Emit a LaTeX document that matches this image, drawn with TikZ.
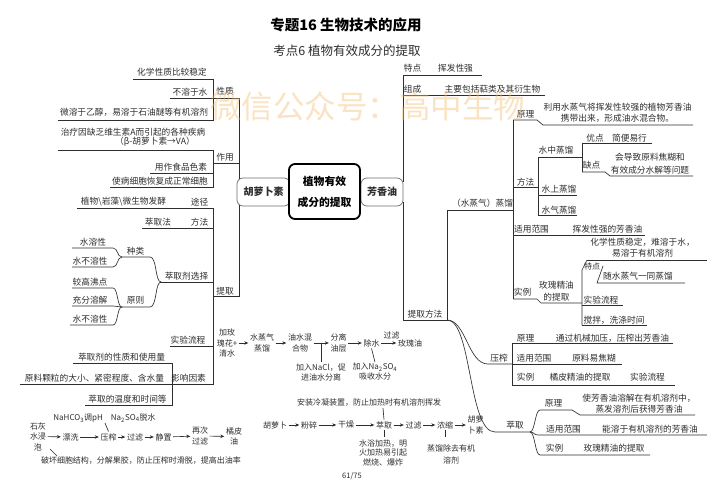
\documentclass[tikz,border=0pt]{standalone}
\usepackage{fontspec}
\setmainfont{Noto Sans CJK SC}
\usetikzlibrary{arrows.meta}
\definecolor{ink}{HTML}{2E2E2E}
\definecolor{wmark}{HTML}{F4BE70}
\begin{document}
\begin{tikzpicture}[x=1pt,y=-1pt,
  tx/.style={inner sep=0pt,text=ink,font=\fontsize{8.7}{10.5}\selectfont},
  ml/.style={tx,align=center},
  fl/.style={inner sep=1.5pt,text=ink,font=\fontsize{8}{10.5}\selectfont,align=center},
  sm/.style={inner sep=0pt,text=ink,font=\fontsize{8}{10}\selectfont,align=center},
  ln/.style={draw=ink,line width=0.65pt},
  arr/.style={draw=ink,line width=0.6pt,-{Stealth[length=4pt,width=3.4pt]}},
  sidebox/.style={draw=ink!70,line width=0.7pt,rounded corners=6pt,minimum height=28pt,inner sep=0pt,font=\fontsize{10}{12}\selectfont\bfseries,text=ink,fill=white},
  ]
\useasboundingbox (0,0) rectangle (707,500);
\fill[white] (0,0) rectangle (707,500);

% titles
\node[inner sep=0pt,text=black,font=\fontsize{14.5}{16}\selectfont\bfseries] (title) at (346,25) {专题16 生物技术的应用};
\node[inner sep=0pt,text=ink,font=\fontsize{12.5}{14}\selectfont] (subtitle) at (347,51) {考点6 植物有效成分的提取};

% ---------------- left tree : 胡萝卜素 ----------------
\node[tx] (p0) at (225,91) {性质};
\node[tx] (p1) at (172,72) {化学性质比较稳定};
\node[tx] (p2) at (190,92) {不溶于水};
\node[tx] (p3) at (134,112) {微溶于乙醇，易溶于石油醚等有机溶剂};
\draw[ln] (133,79)--(213,79)--(213,120)--(58,120);
\draw[ln] (170,98)--(239,98)--(239,182);

\node[tx] (u0) at (225,157) {作用};
\node[tx] (u1) at (133,132) {治疗因缺乏维生素A而引起的各种疾病};
\node[tx] (u2) at (155,142) {（β-胡萝卜素→VA）};
\node[tx] (u3) at (181,167) {用作食品色素};
\node[tx] (u4) at (160,181) {使病细胞恢复成正常细胞};
\draw[ln] (58,150)--(213,150)--(213,187)--(110,187);
\draw[ln] (150,173)--(213,173);
\draw[ln] (213,163)--(239,163);

\node[tx] (e0) at (225,291) {提取};
\node[tx] (e1) at (123.5,202) {植物\textbackslash 岩藻\textbackslash 微生物发酵};
\node[tx] (e1b) at (199.5,202) {途径};
\node[tx] (e2) at (158,222) {萃取法};
\node[tx] (e2b) at (199.5,222) {方法};
\node[tx] (e3) at (186.5,276) {萃取剂选择};
\node[tx] (e4) at (135.5,251) {种类};
\node[tx] (e5) at (135.5,300) {原则};
\node[tx] (e6) at (93,242) {水溶性};
\node[tx] (e7) at (90,261) {水不溶性};
\node[tx] (e8) at (90,282) {较高沸点};
\node[tx] (e9) at (90,300) {充分溶解};
\node[tx] (e10) at (90,319) {水不溶性};
\node[tx] (e11) at (188,340) {实验流程};
\node[tx] (e12) at (188.5,378) {影响因素};
\node[tx] (e13) at (121.5,357) {萃取剂的性质和使用量};
\node[tx] (e14) at (94.5,378) {原料颗粒的大小、紧密程度、含水量};
\node[tx] (e15) at (127.5,399) {萃取的温度和时间等};

\draw[ln] (77,208)--(213,208)--(213,384.5)--(20,384.5);
\draw[ln] (142,228)--(213,228);
\draw[ln] (160,282)--(213,282);
\draw[ln] (170,346)--(213,346);
\draw[ln] (213,296)--(239,296)--(239,202);
\draw[ln] (73,363)--(172,363)--(172,405)--(85,405);
% fans
\draw[ln] (122,257)--(150,257) .. controls +(7,0) and +(-6,0) .. (161,282);
\draw[ln] (122,307)--(150,307) .. controls +(7,0) and +(-6,0) .. (161,282);
\draw[ln] (72,248)--(113,248) .. controls +(5,0) and +(-5,0) .. (122,257);
\draw[ln] (72,267)--(113,267) .. controls +(5,0) and +(-5,0) .. (122,257);
\draw[ln] (72,288)--(113,288) .. controls +(5,0) and +(-5,0) .. (122,307);
\draw[ln] (72,306)--(113,306) .. controls +(5,0) and +(-5,0) .. (122,307);
\draw[ln] (70,325)--(113,325) .. controls +(5,0) and +(-5,0) .. (122,307);

% ---------------- rose oil flow ----------------
\node[fl] (r0) at (227,343) {加玫\\瑰花+\\清水};
\node[fl] (r1) at (262,343) {水蒸气\\蒸馏};
\node[fl] (r2) at (300,343) {油水混\\合物};
\node[fl] (r3) at (338.5,343) {分离\\油层};
\node[fl] (r4) at (371.5,343) {除水};
\node[fl] (r5) at (410,343) {玫瑰油};
\node[sm] (r6) at (391.5,335.5) {过滤};
\draw[arr] (r0) -- (r1);
\draw[arr] (r1) -- (r2);
\draw[arr] (r2) -- (r3);
\draw[arr] (r3) -- (r4);
\draw[arr] (r4) -- (r5);
\node[sm,font=\fontsize{8}{10}\selectfont] (r7) at (321,372) {加入NaCl，促\\进油水分离};
\node[sm] (r8) at (375,372) {加入Na\textsubscript{2}SO\textsubscript{4}\\吸收水分};
\coordinate (r2r3) at (321,343);
\draw[ln] (r7.north) ++(0,-1) -- (r2r3);
\draw[ln] (r8.north) ++(0,-1) -- (r4.south);

% ---------------- carrot flow ----------------
\node[fl] (c0) at (275,425) {胡萝卜};
\node[fl] (c1) at (309,425) {粉碎};
\node[fl] (c2) at (346,425) {干燥};
\node[fl] (c3) at (384,425) {萃取};
\node[fl] (c4) at (413.5,425) {过滤};
\node[fl] (c5) at (445,425) {浓缩};
\node[fl] (c6) at (475.5,425) {胡萝\\卜素};
\draw[arr] (c0) -- (c1);
\draw[arr] (c1) -- (c2);
\draw[arr] (c2) -- (c3);
\draw[arr] (c3) -- (c4);
\draw[arr] (c4) -- (c5);
\draw[arr] (c5) -- (c6);
\node[sm] (c7) at (369,403) {安装冷凝装置，防止加热时有机溶剂挥发};
\node[sm,font=\fontsize{8}{9.5}\selectfont] (c8) at (383,452.5) {水浴加热，明\\火加热易引起\\燃烧、爆炸};
\node[sm,font=\fontsize{8}{12}\selectfont] (c9) at (451,454) {蒸馏除去有机\\溶剂};
\draw[ln] (c7.south) ++(14,1) -- (c3.north);
\draw[ln] (c3.south) -- ++(0,7);
\draw[ln] (c5.south) -- ++(0,7);
\node[inner sep=0pt,text=ink,font=\fontsize{7.5}{9}\selectfont] (page) at (352,476) {61/75};

% ---------------- orange peel flow ----------------
\node[sm] (o0) at (104.5,418) {NaHCO\textsubscript{3}调pH\quad Na\textsubscript{2}SO\textsubscript{4}脱水};
\node[fl] (o1) at (38,436.5) {石灰\\水浸\\泡};
\node[fl] (o2) at (70.5,437) {漂洗};
\node[fl] (o3) at (108.5,437) {压榨};
\node[fl] (o4) at (135,437) {过滤};
\node[fl] (o5) at (163.5,437) {静置};
\node[fl] (o6) at (200,436) {再次\\过滤};
\node[fl] (o7) at (234,436.5) {橘皮\\油};
\draw[arr] (o1) -- (o2);
\draw[arr] (o2) -- (o3);
\draw[arr] (o3) -- (o4);
\draw[arr] (o4) -- (o5);
\draw[arr] (o5) -- (o6);
\draw[arr] (o6) -- (o7);
\draw[ln] (105,423) -- (o3.north);
\node[sm] (o8) at (141,461) {破坏细胞结构，分解果胶，防止压榨时滑脱，提高出油率};
\draw[ln] (50,449) -- (57,456);

% ---------------- right tree : 芳香油 ----------------
\node[tx] (a1) at (412.5,68) {特点};
\node[tx] (a2) at (455.5,68) {挥发性强};
\node[tx] (a3) at (412.5,89) {组成};
\node[tx] (a4) at (492.5,89) {主要包括萜类及其衍生物};
\node[tx] (a5) at (425,314) {提取方法};
\node[tx] (a6) at (482.5,203) {（水蒸气）蒸馏};
\draw[ln] (403,75)--(482,75);
\draw[ln] (403,95)--(545,95);
\draw[ln] (403,75)--(403,182);
\draw[ln] (403,202)--(403,320)--(447,320)--(447,210)--(513,210);
\draw[ln] (513,120)--(513,299);

\node[tx] (b1) at (525.5,114) {原理};
\node[ml,font=\fontsize{8.7}{11}\selectfont] (b2) at (617.5,112.5) {利用水蒸气将挥发性较强的植物芳香油\\携带出来，形成油水混合物。};
\draw[ln] (513,120)--(537,120)--(543,125)--(693,125);
\node[tx] (b3) at (525.5,182) {方法};
\node[tx] (b4) at (556,150) {水中蒸馏};
\node[tx] (b5) at (595,138) {优点};
\node[tx] (b6) at (629.5,138) {简便易行};
\node[tx] (b7) at (591.5,165) {缺点};
\node[ml,font=\fontsize{8.7}{13}\selectfont] (b8) at (650,163.5) {会导致原料焦糊和\\有效成分水解等问题};
\node[tx] (b9) at (559,189) {水上蒸馏};
\node[tx] (b10) at (559,210) {水气蒸馏};
\draw[ln] (513,187)--(538,187);
\draw[ln] (538,157)--(538,215);
\draw[ln] (538,157)--(582,157);
\draw[ln] (582,143)--(582,172);
\draw[ln] (582,143)--(652,143);
\draw[ln] (582,172)--(605,172)--(610,176)--(693,176);
\draw[ln] (538,195)--(577,195);
\draw[ln] (538,215)--(577,215);
\node[tx] (b11) at (531.5,229) {适用范围};
\node[tx] (b12) at (607.5,229) {挥发性强的芳香油};
\draw[ln] (513,235)--(645,235);
\node[tx] (b13) at (522.5,292) {实例};
\node[ml,font=\fontsize{8.7}{12}\selectfont] (b14) at (556.5,291) {玫瑰精油\\的提取};
\draw[ln] (513,299)--(537,299)--(541,303)--(582,303);
\node[tx,font=\fontsize{8}{10}\selectfont] (b15) at (592,266) {特点};
\node[ml,font=\fontsize{8.7}{11}\selectfont] (b16) at (642.5,247.5) {化学性质稳定，难溶于水，\\易溶于有机溶剂};
\node[tx] (b17) at (638,276) {随水蒸气一同蒸馏};
\node[tx] (b18) at (601,300) {实验流程};
\node[tx] (b19) at (614,320) {搅拌，洗涤时间};
\draw[ln] (587,260)--(707,260);
\draw[ln] (582,325)--(582,270)--(587,260);
\draw[ln] (603,266)--(597,283)--(685,283);
\draw[ln] (582,305)--(623,305);
\draw[ln] (582,325)--(647,325);

% 压榨
\node[tx] (c20) at (499,358) {压榨};
\node[tx] (c21) at (525.5,338) {原理};
\node[tx] (c22) at (612.5,338) {通过机械加压，压榨出芳香油};
\node[tx] (c23) at (534,358) {适用范围};
\node[tx] (c24) at (594,358) {原料易焦糊};
\node[tx] (c25) at (525.5,377) {实例};
\node[tx] (c26) at (580,377) {橘皮精油的提取};
\node[tx] (c27) at (647.5,377) {实验流程};
\draw[ln] (447,320) .. controls (466,320) and (468,364) .. (488,364) -- (512,364);
\draw[ln] (512,343)--(512,385);
\draw[ln] (512,343)--(673,343);
\draw[ln] (512,364)--(622,364);
\draw[ln] (512,385)--(675,385);

% 萃取
\node[tx] (d0) at (515,425) {萃取};
\node[tx] (d1) at (553.5,403) {原理};
\node[ml,font=\fontsize{8.7}{11}\selectfont] (d2) at (639,403.5) {使芳香油溶解在有机溶剂中，\\蒸发溶剂后获得芳香油};
\node[tx] (d3) at (563.5,429) {适用范围};
\node[tx] (d4) at (650,429) {能溶于有机溶剂的芳香油};
\node[tx] (d5) at (554.5,448) {实例};
\node[tx] (d6) at (614,448) {玫瑰精油的提取};
\draw[ln] (447,320) .. controls (472,320) and (468,432) .. (495,432) -- (530,432);
\draw[ln] (530,432) .. controls +(5,0) and +(-5,0) .. (540,410) -- (572,410) -- (580,415) -- (695,415);
\draw[ln] (530,432) .. controls +(4,0) and +(-4,0) .. (538,435) -- (707,435);
\draw[ln] (530,432) .. controls +(5,0) and +(-5,0) .. (540,455) -- (650,455);

% ---------------- central boxes ----------------
\node[sidebox,minimum width=53pt] (carrot) at (263.5,192) {胡萝卜素};
\node[sidebox,minimum width=42pt] (aroma) at (382,192) {芳香油};
\node[draw=black,fill=white,line width=1.8pt,rounded corners=6pt,minimum width=71pt,minimum height=55pt,align=center,inner sep=2pt,font=\fontsize{10.8}{21}\selectfont\bfseries] (hub) at (324.5,191.5) {植物有效\\成分的提取};

% watermark
\node[inner sep=0pt,text=wmark,opacity=0.42,font=\fontsize{31.5}{34}\selectfont] (wm) at (367.5,106) {微信公众号：高中生物};
\end{tikzpicture}
\end{document}
